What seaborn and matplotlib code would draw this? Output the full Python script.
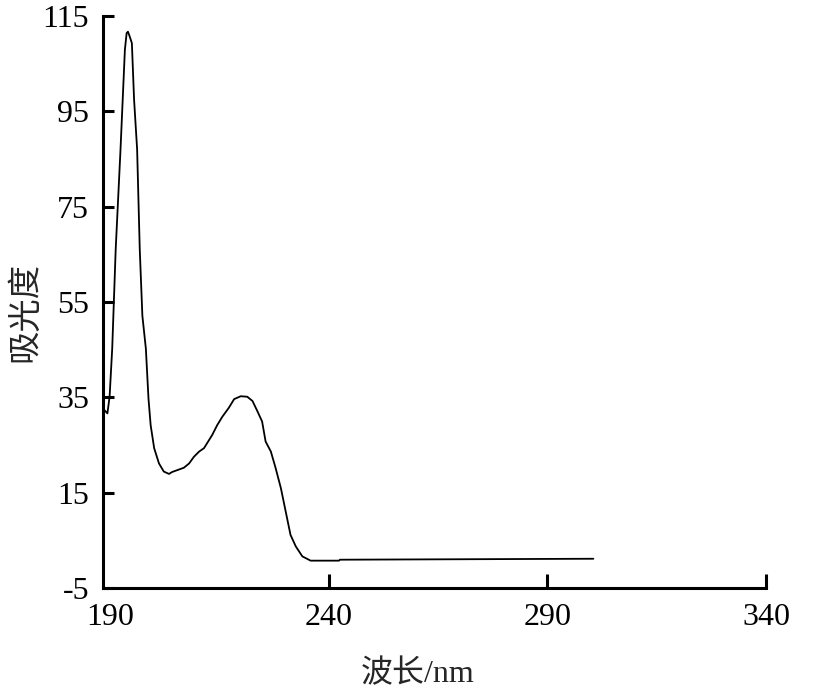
import matplotlib
matplotlib.use("Agg")
import matplotlib.pyplot as plt
import seaborn as sns
import pandas as pd

# 紫外吸收光谱
wavelength = [187.8, 188.3, 189.3, 189.8, 190.4, 191.2, 192.3, 193.3, 193.7, 194.0,
              194.4, 194.9, 195.4, 196.1, 196.7, 197.3, 198.1, 198.7, 199.2, 200.0,
              201.1, 202.2, 203.4, 204.1, 205.3, 206.8, 208.0, 209.1, 210.3, 211.4,
              213.3, 214.4, 215.6, 217.1, 218.3, 219.8, 221.3, 222.5, 223.6, 224.7,
              225.5, 226.7, 227.8, 229.0, 230.1, 231.2, 232.4, 233.9, 235.8, 242.3,
              242.5, 300.5]
absorbance = [34.7, 32.6, 31.6, 35.1, 45.2, 66.1, 87.0, 107.9, 111.4, 111.7,
              110.7, 109.3, 97.5, 87.0, 66.1, 52.1, 45.2, 34.7, 29.1, 24.3,
              21.1, 19.4, 18.9, 19.3, 19.7, 20.2, 21.1, 22.5, 23.6, 24.3,
              27.1, 29.1, 30.9, 32.8, 34.6, 35.2, 35.1, 34.2, 32.1, 29.9,
              25.7, 23.6, 20.1, 15.9, 11.0, 6.1, 3.7, 1.6, 0.7, 0.7,
              0.9, 1.1]

x_ticks = [190, 240, 290, 340]
y_ticks = [-5, 15, 35, 55, 75, 95, 115]

sns.set_style("ticks")
plt.rcParams['font.family'] = ['Liberation Serif', 'Noto Sans CJK SC']

df = pd.DataFrame({"wl": wavelength, "abs": absorbance})

fig = plt.figure(figsize=(8.21, 6.94), dpi=100)
ax = fig.add_axes([0.1255, 0.153, 0.8075, 0.824])

sns.lineplot(data=df, x="wl", y="abs", ax=ax, sort=False, color="black",
             linewidth=1.3, estimator=None)

ax.set_xlim(188.3, 340)
ax.set_ylim(-5, 115)
ax.set_xticks(x_ticks)
ax.set_yticks(y_ticks)
ax.set_xticklabels([str(v) for v in x_ticks])
ax.set_yticklabels([str(v) for v in y_ticks])

sns.despine(ax=ax)
for s in ("left", "bottom"):
    ax.spines[s].set_linewidth(2.2)
    ax.spines[s].set_color("black")

ax.tick_params(axis="y", direction="in", length=8, width=2.2, pad=10,
               labelsize=23, colors="black")
ax.tick_params(axis="x", direction="in", length=10, width=2.2, pad=11,
               labelsize=23, colors="black")
# 190 处不画刻度线
ax.xaxis.get_major_ticks()[0].tick1line.set_visible(False)

ax.set_xlabel("波长/nm", fontsize=23)
ax.set_ylabel("吸光度", fontsize=24)
ax.xaxis.set_label_coords(0.475, -0.125)
ax.yaxis.set_label_coords(-0.093, 0.483)

fig.savefig("out.png", dpi=100)
